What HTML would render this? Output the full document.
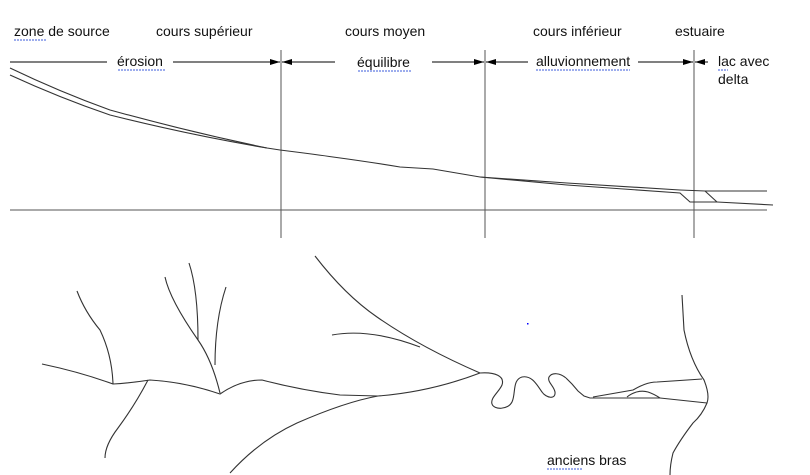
<!DOCTYPE html>
<html><head><meta charset="utf-8"><style>
html,body{margin:0;padding:0;background:#fff;}
svg{display:block;}
text{font-family:"Liberation Sans",sans-serif;font-size:14px;fill:#111;}
</style></head><body>
<svg width="810" height="475" viewBox="0 0 810 475" xmlns="http://www.w3.org/2000/svg">
<defs>
<marker id="ar" markerWidth="10" markerHeight="6" refX="10" refY="3" orient="auto" markerUnits="userSpaceOnUse"><path d="M0,0 L10,3 L0,6 Z" fill="#000"/></marker>
</defs>
<text x="14" y="36">zone de source</text>
<text x="156" y="36">cours supérieur</text>
<text x="345" y="36">cours moyen</text>
<text x="533" y="36">cours inférieur</text>
<text x="675" y="36">estuaire</text>
<text x="117" y="66">érosion</text>
<text x="357" y="67">équilibre</text>
<text x="536" y="66">alluvionnement</text>
<text x="718" y="66">lac avec</text>
<text x="718" y="84">delta</text>
<text x="547" y="465">anciens bras</text>
<g stroke="#3b5bdb" stroke-width="1" fill="none" stroke-dasharray="2,1">
<path d="M14,40 h33"/><path d="M118,70 h47"/><path d="M358,71 h53"/><path d="M536,70 h94"/><path d="M718,70 h10"/><path d="M547,469 h36"/>
</g>
<g stroke="#000" stroke-width="1" fill="none">
<line x1="10" y1="62" x2="107" y2="62"/>
<line x1="173" y1="62" x2="280" y2="62" marker-end="url(#ar)"/>
<line x1="335" y1="62" x2="282" y2="62" marker-end="url(#ar)"/>
<line x1="432" y1="62" x2="484" y2="62" marker-end="url(#ar)"/>
<line x1="528" y1="62" x2="486" y2="62" marker-end="url(#ar)"/>
<line x1="638" y1="62" x2="693" y2="62" marker-end="url(#ar)"/>
<line x1="708" y1="62" x2="695" y2="62" marker-end="url(#ar)"/>
</g>
<g stroke="#555" stroke-width="1" fill="none">
<line x1="281" y1="50" x2="281" y2="238"/>
<line x1="485" y1="50" x2="485" y2="238"/>
<line x1="694" y1="50" x2="694" y2="238"/>
<line x1="10" y1="210" x2="767" y2="210"/>
</g>
<g stroke="#333" stroke-width="1.1" fill="none">
<path d="M10,68 Q60,92 110,110 Q190,132 267,148 L280,150 Q320,155 333,157 Q370,162 400,167 L433,169 L480,177 L567,183 L680,190 L705,191 L767,191"/>
<path d="M10,75 Q60,98 110,115 Q190,135 267,148"/>
<path d="M480,177 L567,185 L680,193 L690,202 L717,202 L773,205"/>
<path d="M705,191 L717,202"/>
</g>
<g stroke="#333" stroke-width="1.1" fill="none">
<path d="M42,364 Q80,372 113,384 Q130,383 150,380 Q185,382 220,394 Q240,380 262,380 Q300,390 340,395 L378,396 Q430,392 480,373"/>
<path d="M77,291 Q85,312 100,330 Q112,355 113,384"/>
<path d="M148,380 Q135,405 118,428 Q105,445 105,458"/>
<path d="M165,277 Q170,300 198,340 Q212,360 220,393"/>
<path d="M189,263 Q198,290 198,340"/>
<path d="M226,287 Q215,320 215,365"/>
<path d="M315,256 Q345,295 377,317 Q420,347 480,373"/>
<path d="M332,335 Q370,328 420,347"/>
<path d="M230,473 Q260,440 297,423 Q345,402 378,396"/>
<path d="M480,373 C495,372 505,376 502,385 C499,392 490,398 492,404 C494,410 508,410 512,402 C516,394 512,380 522,377 C532,375 537,385 542,392 C546,398 556,400 555,392 C554,386 547,382 549,377 C552,372 560,373 566,378"/>
<polyline points="566,378 572,384 578,391 584,396 590,398 607,398 660,398 707,403"/>
<path d="M593,397 L633,390 C640,386 648,382 657,382 L702,379"/>
<path d="M627,397 C633,392 641,390 648,392 C654,394 657,396 660,398"/>
<path d="M682,295 L684,330 Q690,360 704,380 Q710,395 707,403 Q702,415 693,423 Q680,440 673,453 Q670,465 670,475"/>
</g>
<rect x="527" y="323" width="1.5" height="1.5" fill="#00f"/>
</svg>
</body></html>
